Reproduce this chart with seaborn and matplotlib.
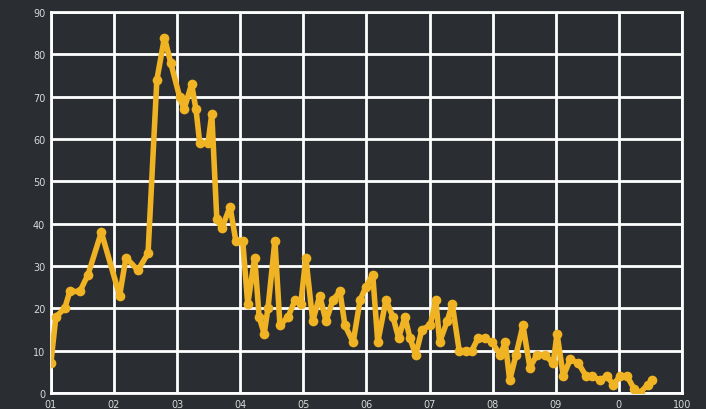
import numpy as np
import pandas as pd
import matplotlib
matplotlib.use("Agg")
import matplotlib.pyplot as plt
import seaborn as sns

# values
x_vals = [0.0, 0.08, 0.22, 0.3, 0.46, 0.59, 0.8, 1.09, 1.19, 1.38, 1.54,
          1.68, 1.8, 1.9, 2.04, 2.11, 2.23, 2.3, 2.36, 2.49, 2.55, 2.63,
          2.71, 2.84, 2.93, 3.04, 3.12, 3.23, 3.3, 3.38, 3.44, 3.55, 3.63,
          3.76, 3.87, 3.96, 4.04, 4.15, 4.26, 4.36, 4.47, 4.58, 4.66, 4.79,
          4.9, 4.99, 5.1, 5.18, 5.31, 5.42, 5.51, 5.61, 5.69, 5.78, 5.88,
          6.01, 6.1, 6.16, 6.28, 6.36, 6.47, 6.58, 6.67, 6.77, 6.88, 6.99,
          7.12, 7.2, 7.27, 7.37, 7.48, 7.59, 7.7, 7.83, 7.96, 8.02, 8.12,
          8.23, 8.36, 8.48, 8.58, 8.7, 8.81, 8.91, 9.02, 9.13, 9.24, 9.33,
          9.46, 9.52]
y_vals = [7, 18, 20, 24, 24, 28, 38, 23, 32, 29, 33,
          74, 84, 78, 70, 67, 73, 67, 59, 59, 66, 41,
          39, 44, 36, 36, 21, 32, 18, 14, 20, 36, 16,
          18, 22, 21, 32, 17, 23, 17, 22, 24, 16, 12,
          22, 25, 28, 12, 22, 18, 13, 18, 13, 9, 15,
          16, 22, 12, 17, 21, 10, 10, 10, 13, 13, 12,
          9, 12, 3, 9, 16, 6, 9, 9, 7, 14, 4,
          8, 7, 4, 4, 3, 4, 2, 4, 4, 1, 0,
          2, 3]
x_ticks = [0, 1, 2, 3, 4, 5, 6, 7, 8, 9, 10]
x_labels = ["01", "02", "03", "04", "05", "06", "07", "08", "09", "0", "100"]
y_ticks = [0, 10, 20, 30, 40, 50, 60, 70, 80, 90]

df = pd.DataFrame({"x": x_vals, "y": y_vals})

bg = "#2a2d31"
sns.set_theme(style="darkgrid")
fig = plt.figure(figsize=(7.06, 4.10), dpi=100, facecolor=bg)
ax = fig.add_axes([0.072, 0.039, 0.894, 0.929])
ax.set_facecolor(bg)

sns.lineplot(data=df, x="x", y="y", ax=ax, color="#f0b323", linewidth=4,
             marker="o", markersize=7, markeredgewidth=0, zorder=3)

ax.set_xlim(0, 10)
ax.set_ylim(0, 90)
ax.set_xticks(x_ticks)
ax.set_xticklabels(x_labels)
ax.set_yticks(y_ticks)
ax.grid(True, color="white", linewidth=2)
for s in ax.spines.values():
    s.set_visible(True)
    s.set_color("white")
    s.set_linewidth(2)
ax.tick_params(colors="#d8d8d8", labelsize=7, length=0, pad=4)
ax.set_xlabel("")
ax.set_ylabel("")

plt.savefig("out.png", dpi=100, facecolor=bg)
